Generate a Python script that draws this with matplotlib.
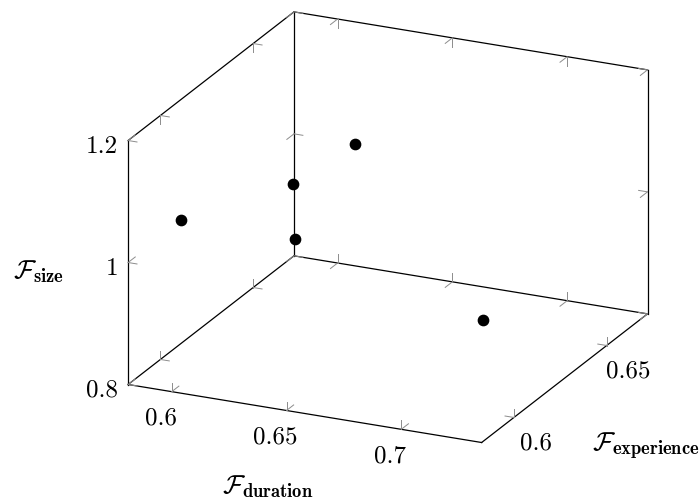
import numpy as np
import matplotlib
matplotlib.use('Agg')
import matplotlib.pyplot as plt
from mpl_toolkits.mplot3d import proj3d

# data
duration = [0.593, 0.620, 0.629, 0.631, 0.719]
experience = [0.596, 0.623, 0.613, 0.643, 0.603]
size = [1.046, 1.057, 0.996, 1.082, 0.943]

x_ticks = [0.6, 0.65, 0.7]
x_labels = ['0.6', '0.65', '0.7']
y_ticks = [0.6, 0.65]
y_labels = ['0.6', '0.65']
z_ticks = [0.8, 1.0, 1.2]
z_labels = ['0.8', '1', '1.2']

xlim = (0.581, 0.735)
ylim = (0.5826, 0.672)
zlim = (0.8, 1.2)

plt.rcParams['font.family'] = 'cmr10'
plt.rcParams['mathtext.fontset'] = 'cm'
plt.rcParams['axes.formatter.use_mathtext'] = True

fig = plt.figure(figsize=(6.99, 5.04), dpi=100)
ax = fig.add_axes([31.5 / 699, 18 / 504, 1, 1], projection='3d')
ax.set_proj_type('ortho')
ax.view_init(elev=20.9, azim=-65.3)
ax.set_box_aspect((1.49, 1.52, 1), zoom=1.183)

ax.scatter(duration, experience, size, color='black', s=55, depthshade=False, clip_on=False)

ax.set_xlim(*xlim)
ax.set_ylim(*ylim)
ax.set_zlim(*zlim)
ax.set_xticks(x_ticks)
ax.set_xticklabels([''] * len(x_ticks))
ax.set_yticks(y_ticks)
ax.set_yticklabels([''] * len(y_ticks))
ax.set_zticks(z_ticks)
ax.set_zticklabels([''] * len(z_ticks))

ax.grid(False)
for axis in (ax.xaxis, ax.yaxis, ax.zaxis):
    axis.pane.set_facecolor((1, 1, 1, 0))
    axis.pane.set_edgecolor((1, 1, 1, 0))
    axis.line.set_color((1, 1, 1, 0))
    axis._axinfo['tick']['inward_factor'] = 0.0
    axis._axinfo['tick']['outward_factor'] = 0.0
ax.tick_params(axis='both', width=0)

# box outline of the three back planes
x0, x1 = xlim
y0, y1 = ylim
z0, z1 = zlim
edges = [
    ([x0, x1], [y0, y0], [z0, z0]),
    ([x1, x1], [y0, y1], [z0, z0]),
    ([x1, x0], [y1, y1], [z0, z0]),
    ([x0, x0], [y1, y0], [z0, z0]),
    ([x0, x0], [y0, y0], [z0, z1]),
    ([x0, x0], [y1, y1], [z0, z1]),
    ([x1, x1], [y1, y1], [z0, z1]),
    ([x0, x0], [y0, y1], [z1, z1]),
    ([x0, x1], [y1, y1], [z1, z1]),
]
for ex, ey, ez in edges:
    ax.plot(ex, ey, ez, color='black', lw=0.9, clip_on=False)

# pgfplots style ticks: two short strokes into the neighbouring planes
tick_px = 9.0
dx = tick_px / 358 * (x1 - x0)
dy = tick_px / 209 * (y1 - y0)
dz = tick_px / 245 * (z1 - z0)


def tick_mark(p, d1, d2):
    for d in (d1, d2):
        ax.plot([p[0], p[0] + d[0]], [p[1], p[1] + d[1]], [p[2], p[2] + d[2]],
                color='#8c8c8c', lw=0.7, clip_on=False)


for xv in x_ticks:
    tick_mark((xv, y0, z0), (0, dy, 0), (0, 0, dz))
    tick_mark((xv, y1, z0), (0, -dy, 0), (0, 0, dz))
    tick_mark((xv, y1, z1), (0, -dy, 0), (0, 0, -dz))
for yv in y_ticks:
    tick_mark((x0, yv, z0), (dx, 0, 0), (0, 0, dz))
    tick_mark((x1, yv, z0), (-dx, 0, 0), (0, 0, dz))
    tick_mark((x0, yv, z1), (dx, 0, 0), (0, 0, -dz))
for zv in z_ticks:
    tick_mark((x0, y0, zv), (dx, 0, 0), (0, dy, 0))
    tick_mark((x0, y1, zv), (dx, 0, 0), (0, -dy, 0))
    tick_mark((x1, y1, zv), (-dx, 0, 0), (0, -dy, 0))

# tick labels, placed at the projected tick with a pixel offset
fig.canvas.draw()


def tick_label(p, s, ox, oy, ha='center'):
    px, py, _ = proj3d.proj_transform(p[0], p[1], p[2], ax.get_proj())
    ax.annotate(s, xy=(px, py), xycoords='data', xytext=(ox, -oy),
                textcoords='offset pixels', ha=ha, va='center',
                fontsize=18, annotation_clip=False)


for xv, s in zip(x_ticks, x_labels):
    tick_label((xv, y0, z0), s, -11, 27)
for yv, s in zip(y_ticks, y_labels):
    tick_label((x1, yv, z0), s, 22, 26)
for zv, s in zip(z_ticks, z_labels):
    tick_label((x0, y0, zv), s, -10, 6, ha='right')

fig.text(13 / 699, 1 - 272 / 504, r'$\mathcal{F}_{\mathbf{size}}$', fontsize=19, va='center', ha='left')
fig.text(268 / 699, 1 - 487 / 504, r'$\mathcal{F}_{\mathbf{duration}}$', fontsize=19, va='center', ha='center')
fig.text(646 / 699, 1 - 446 / 504, r'$\mathcal{F}_{\mathbf{experience}}$', fontsize=19, va='center', ha='center')

fig.savefig('out.png', dpi=100)
